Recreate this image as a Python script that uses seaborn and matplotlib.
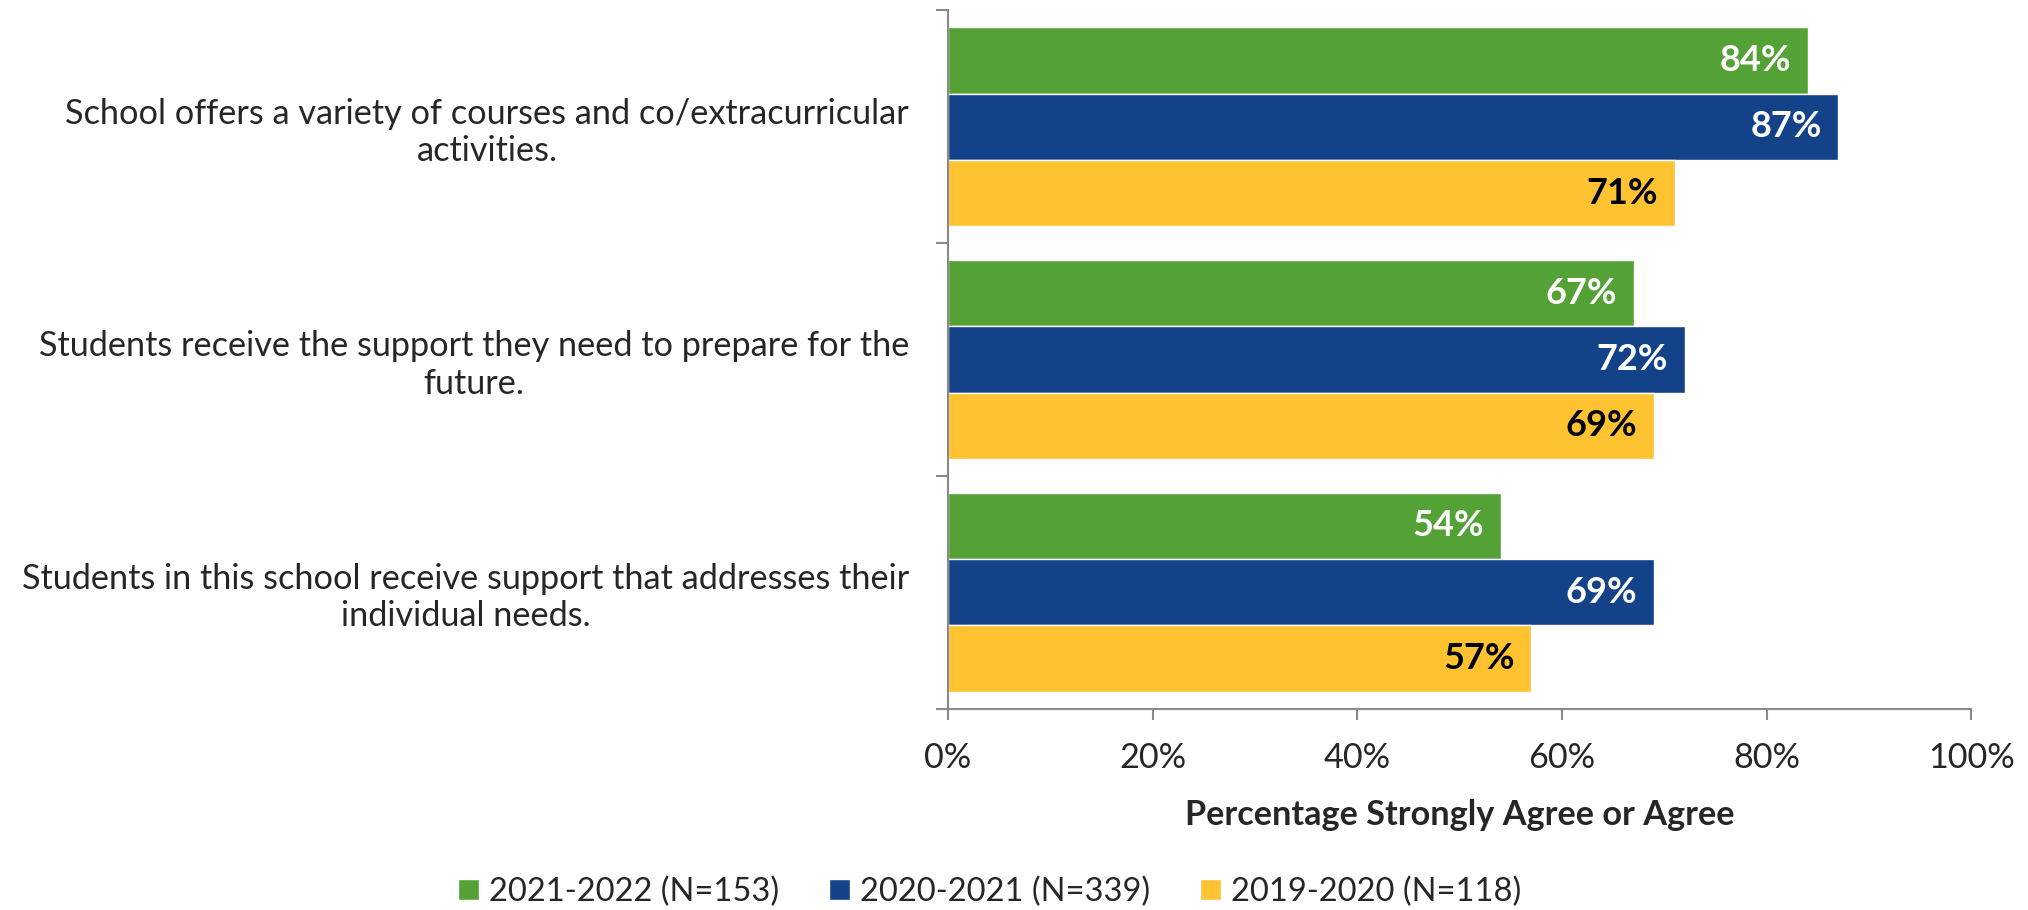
import pandas as pd
import numpy as np
import matplotlib
matplotlib.use('Agg')
import matplotlib.pyplot as plt
import seaborn as sns

# ---------------- data ----------------
questions = [
    "School offers a variety of courses and co/extracurricular\nactivities.",
    "Students receive the support they need to prepare for the\nfuture.",
    "Students in this school receive support that addresses their\nindividual needs.",
]
years = ["2021-2022 (N=153)", "2020-2021 (N=339)", "2019-2020 (N=118)"]
pct_2122 = [84, 67, 54]
pct_2021 = [87, 72, 69]
pct_1920 = [71, 69, 57]
x_ticks = [0, 20, 40, 60, 80, 100]

colors = ["#54A136", "#134289", "#FFC332"]
label_colors = ["white", "white", "black"]

df = pd.DataFrame({
    'question': questions * 3,
    'year': [years[0]] * 3 + [years[1]] * 3 + [years[2]] * 3,
    'pct': pct_2122 + pct_2021 + pct_1920,
})

sns.set_style('white')
plt.rcParams['font.family'] = ['Lato', 'DejaVu Sans']
FS = 24.7

fig = plt.figure(figsize=(20.28, 9.1), dpi=100)
ax = fig.add_axes([0.4675, 0.2214, 0.5045, 0.7672])

sns.barplot(data=df, y='question', x='pct', hue='year', palette=colors,
            orient='h', width=0.855, saturation=1, ax=ax, legend=True)

# value labels inside bar ends
for container, tc in zip(ax.containers, label_colors):
    for bar in container:
        w = bar.get_width()
        ax.annotate(f"{w:.0f}%", xy=(w, bar.get_y() + bar.get_height() / 2),
                    xytext=(-12, 0), textcoords='offset points',
                    ha='right', va='center', fontsize=26, fontweight='bold',
                    color=tc)

ax.set_xlim(0, 100)
ax.set_ylim(2.5, -0.5)
ax.set_xticks(x_ticks)
ax.set_xticklabels([f"{t}%" for t in x_ticks], fontsize=FS)
ax.set_xlabel("Percentage Strongly Agree or Agree", fontsize=FS,
              fontweight='bold', labelpad=18)
ax.set_ylabel("")

ax.set_yticks(range(len(questions)))
ax.set_yticklabels(questions, fontsize=FS, multialignment='center')
ax.set_yticks([-0.5, 0.5, 1.5, 2.5], minor=True)
ax.tick_params(axis='y', which='major', length=0, pad=28)
ax.tick_params(axis='y', which='minor', length=9, width=1.5,
               color='#898989', direction='out', left=True)
ax.tick_params(axis='x', which='major', length=8, width=1.5,
               color='#898989', direction='out', bottom=True, pad=16)

for side in ['top', 'right']:
    ax.spines[side].set_visible(False)
for side in ['left', 'bottom']:
    ax.spines[side].set_color('#898989')
    ax.spines[side].set_linewidth(1.5)

handles, labels = ax.get_legend_handles_labels()
ax.get_legend().remove()
fig.legend(handles, labels, loc='center', bbox_to_anchor=(0.488, 0.02),
           ncol=3, frameon=False, fontsize=23.5, handlelength=0.63,
           handleheight=0.6, handletextpad=0.3, columnspacing=1.55)

fig.savefig('out.png', dpi=100)
